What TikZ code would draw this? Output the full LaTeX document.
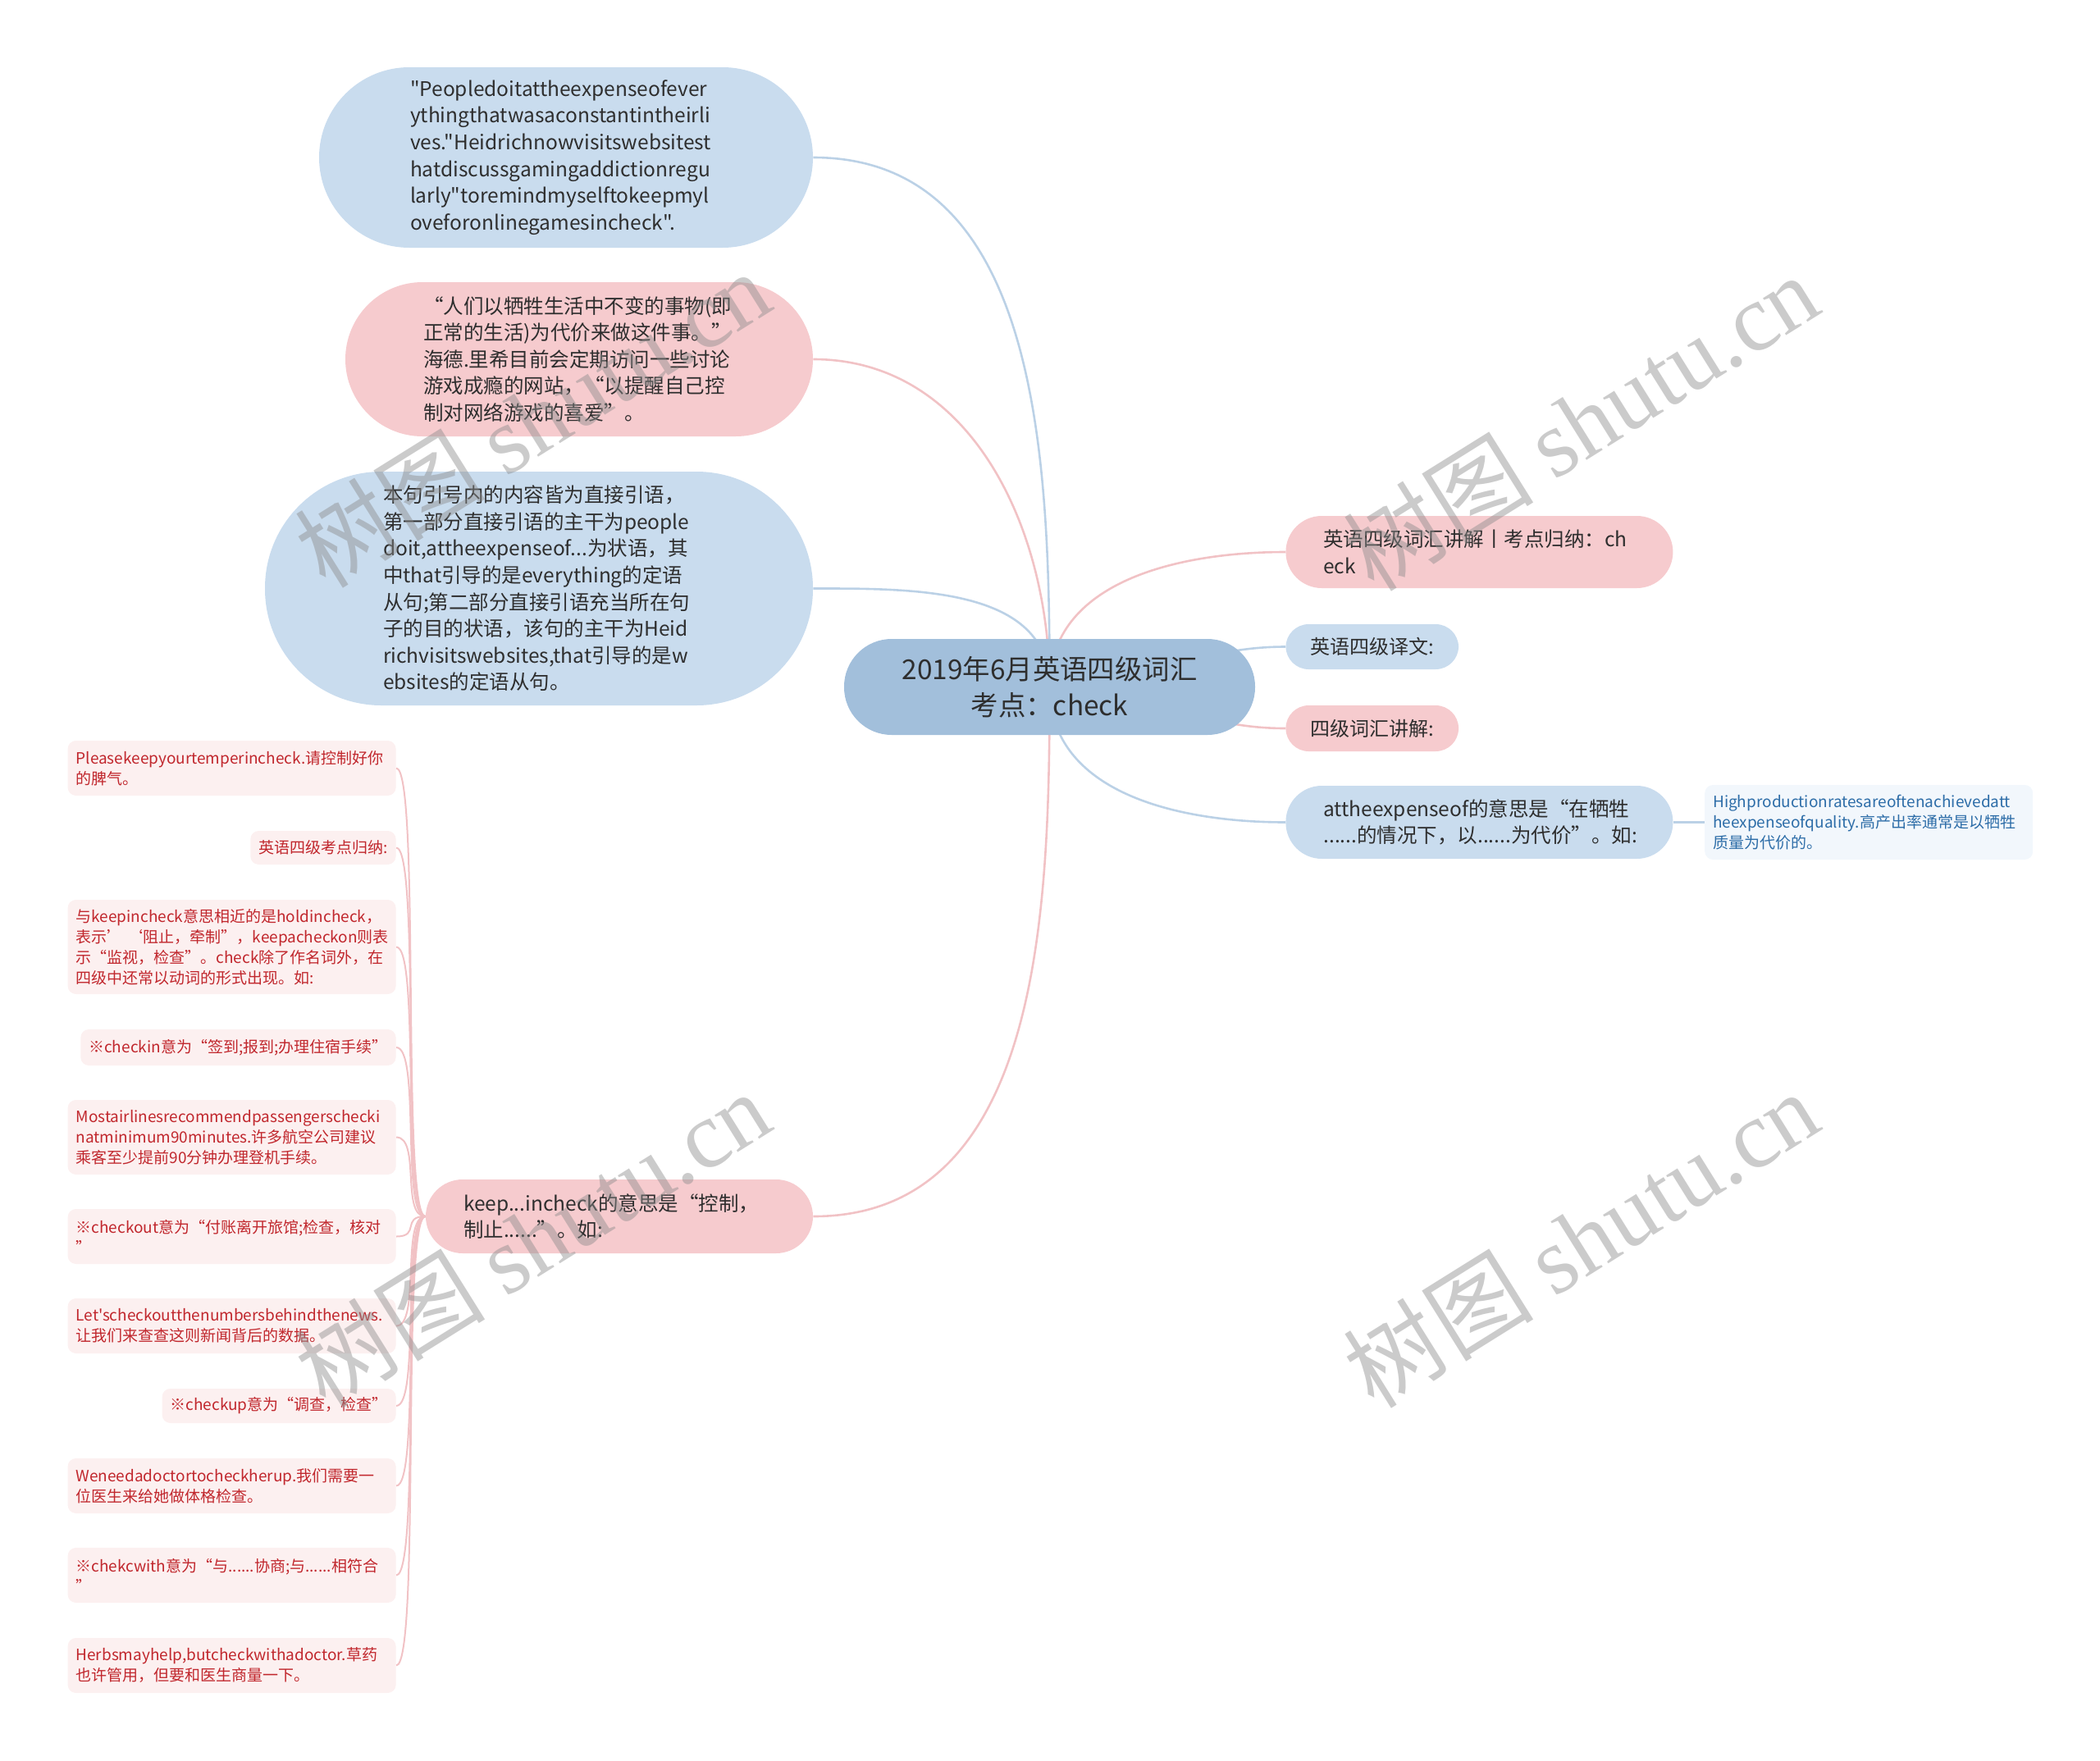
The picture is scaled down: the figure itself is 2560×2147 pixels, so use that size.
\documentclass[tikz,border=0pt]{standalone}
\usepackage{fontspec}
\setmainfont{Noto Sans CJK SC}[Ligatures=TeXOff]
\newfontfamily\wmfont{Liberation Serif}
\usetikzlibrary{positioning,backgrounds}
\hyphenpenalty=10000
\exhyphenpenalty=10000

\definecolor{rootfill}{HTML}{A2BFDB}
\definecolor{bluefill}{HTML}{C9DCEE}
\definecolor{pinkfill}{HTML}{F6CBCE}
\definecolor{bluelink}{HTML}{BBD1E6}
\definecolor{pinklink}{HTML}{F1C2C5}
\definecolor{leafpink}{HTML}{FCF0F0}
\definecolor{leafred}{HTML}{C1272D}
\definecolor{leafblue}{HTML}{F2F7FC}
\definecolor{leafnavy}{HTML}{2D6DA8}
\definecolor{inkdark}{HTML}{2E2E2E}

\begin{document}
\begin{tikzpicture}[x=0.5pt, y=-0.5pt,
  bubble/.style={rounded corners=#1, align=left, text width=190pt, inner sep=0pt, text=inkdark, font=\fontsize{12.25}{16.3}\selectfont},
  tag/.style={rounded corners=#1, align=left, inner xsep=15pt, inner ysep=0pt, text=inkdark, font=\fontsize{12}{16.3}\selectfont},
  leaf/.style={rounded corners=5pt, fill=leafpink, text=leafred, anchor=east, align=left, text width=190pt, inner xsep=5pt, inner ysep=0pt, minimum height=#1, font=\fontsize{9.5}{12.5}\selectfont},
  leafs/.style={rounded corners=5pt, fill=leafpink, text=leafred, anchor=east, inner xsep=5pt, inner ysep=0pt, minimum height=#1, font=\fontsize{9.5}{12.5}\selectfont},
  blink/.style={draw=bluelink, line width=1.3pt},
  plink/.style={draw=pinklink, line width=1.3pt},
  llink/.style={draw=pinklink, line width=1pt},
  wmark/.style={rotate=32, text=black!45, opacity=0.45, font=\fontsize{58}{58}\selectfont}]
\useasboundingbox (0,0) rectangle (2560,2147);

% root
\node[fill=rootfill, rounded corners=29pt, minimum width=250.5pt, minimum height=58.5pt, align=center, inner sep=0pt, text=inkdark, font=\fontsize{16.7}{22}\selectfont] (root) at (1279.5,837.5) {2019年6月英语四级词汇\\考点：check};

% left side
\node[bubble=55pt, fill=bluefill, minimum width=301pt, minimum height=110pt] (quote) at (690,192) {"Peopledoitattheexpenseofever\\ythingthatwasaconstantintheirli\\ves."Heidrichnowvisitswebsitest\\hatdiscussgamingaddictionregu\\larly"toremindmyselftokeepmyl\\oveforonlinegamesincheck".};
\node[bubble=47pt, fill=pinkfill, minimum width=285pt, minimum height=94pt] (trans) at (706,438) {“人们以牺牲生活中不变的事物(即\\正常的生活)为代价来做这件事。”\\海德.里希目前会定期访问一些讨论\\游戏成瘾的网站，“以提醒自己控\\制对网络游戏的喜爱”。};
\node[bubble=71pt, fill=bluefill, minimum width=334pt, minimum height=142.5pt] (gram) at (657,717.5) {本句引号内的内容皆为直接引语，\\第一部分直接引语的主干为people\\doit,attheexpenseof...为状语，其\\中that引导的是everything的定语\\从句;第二部分直接引语充当所在句\\子的目的状语，该句的主干为Heid\\richvisitswebsites,that引导的是w\\ebsites的定语从句。};
\node[bubble=22.5pt, fill=pinkfill, minimum width=236pt, minimum height=45pt] (keep) at (755,1483) {keep...incheck的意思是“控制，\\制止......”。如:};

% right side
\node[bubble=22pt, fill=pinkfill, minimum width=236pt, minimum height=44pt, anchor=west] (vocab) at (1567,673) {英语四级词汇讲解丨考点归纳：ch\\eck};
\node[tag=14pt, fill=bluefill, minimum width=104.5pt, minimum height=27.5pt, anchor=west] (yiwen) at (1567,788.5) {英语四级译文:};
\node[tag=14pt, fill=pinkfill, minimum width=104.5pt, minimum height=28pt, anchor=west] (jiangjie) at (1567,888) {四级词汇讲解:};
\node[bubble=22pt, fill=bluefill, minimum width=236pt, minimum height=44.5pt, anchor=west] (expense) at (1567,1002.5) {attheexpenseof的意思是“在牺牲\\......的情况下，以......为代价”。如:};
\node[leaf=45.5pt, fill=leafblue, text=leafnavy, anchor=west, right=19pt of expense] (quality) {Highproductionratesareoftenachievedatt\\heexpenseofquality.高产出率通常是以牺牲\\质量为代价的。};

% examples under keep
\node[leaf=33.5pt] (temper) at (483,936.5) {Pleasekeepyourtemperincheck.请控制好你\\的脾气。};
\node[leafs=20.5pt] (kaodian) at (483,1033.5) {英语四级考点归纳:};
\node[leaf=57.5pt] (hold) at (483,1154.5) {与keepincheck意思相近的是holdincheck，\\表示’~‘阻止，牵制”，keepacheckon则表\\示“监视，检查”。check除了作名词外，在\\四级中还常以动词的形式出现。如:};
\node[leafs=22pt] (checkin) at (483,1277) {※checkin意为“签到;报到;办理住宿手续”};
\node[leaf=45.5pt] (airline) at (483,1386.5) {Mostairlinesrecommendpassengerschecki\\natminimum90minutes.许多航空公司建议\\乘客至少提前90分钟办理登机手续。};
\node[leaf=33.5pt] (checkout) at (483,1507.5) {※checkout意为“付账离开旅馆;检查，核对\\”};
\node[leaf=33.5pt] (news) at (483,1616.5) {Let'scheckoutthenumbersbehindthenews.\\让我们来查查这则新闻背后的数据。};
\node[leafs=21pt] (checkup) at (483,1714) {※checkup意为“调查，检查”};
\node[leaf=33.5pt] (doctor) at (483,1811.5) {Weneedadoctortocheckherup.我们需要一\\位医生来给她做体格检查。};
\node[leaf=33.5pt] (checkwith) at (483,1920.5) {※chekcwith意为“与......协商;与......相符合\\”};
\node[leaf=33.5pt] (herbs) at (483,2030.5) {Herbsmayhelp,butcheckwithadoctor.草药\\也许管用，但要和医生商量一下。};

\begin{scope}[on background layer]
\draw[blink] (root.center) to[out=90,in=0] (quote.east);
\draw[plink] (root.center) to[out=90,in=0] (trans.east);
\draw[blink] (root.center) to[out=90,in=0] (gram.east);
\draw[plink] (root.center) to[out=-90,in=0] (keep.east);
\draw[plink] (root.center) to[out=90,in=180] (vocab.west);
\draw[blink] (root.center) to[out=0,in=180] (yiwen.west);
\draw[plink] (root.center) to[out=0,in=180] (jiangjie.west);
\draw[blink] (root.center) to[out=-90,in=180] (expense.west);
\draw[blink] (expense.east) -- (quality.west);
\foreach \leafname in {temper,kaodian,hold,checkin,airline,checkout,news,checkup,doctor,checkwith,herbs}
  \draw[llink] (keep.west) .. controls +(-30,0) and +(30,0) .. (\leafname.east);
\end{scope}

% watermarks
\node[wmark] (wma) at (649,510) {树图 {\wmfont shutu.cn}};
\node[wmark] (wmb) at (1927,514) {树图 {\wmfont shutu.cn}};
\node[wmark] (wmc) at (649,1510) {树图 {\wmfont shutu.cn}};
\node[wmark] (wmd) at (1927,1510) {树图 {\wmfont shutu.cn}};
\end{tikzpicture}
\end{document}
